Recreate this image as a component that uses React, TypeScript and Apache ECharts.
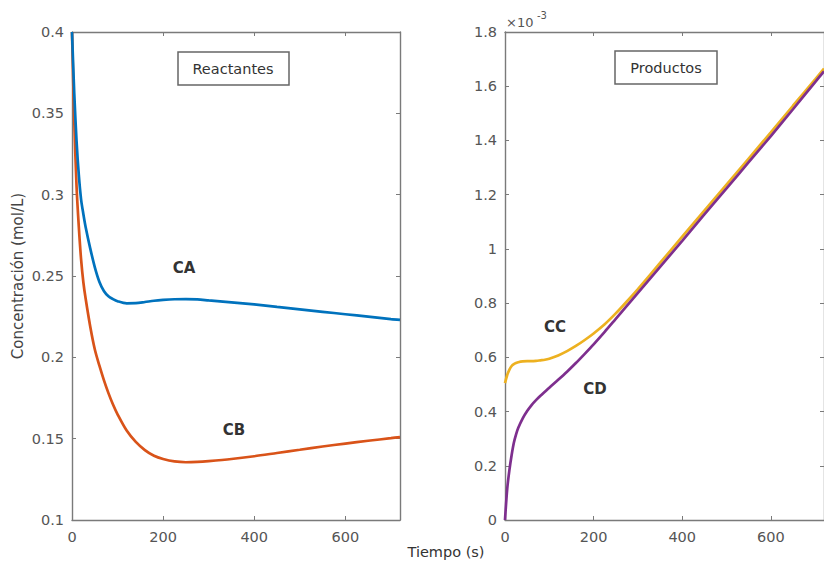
import React, { useEffect, useRef } from "react";
import * as echarts from "echarts";

// time (s)
const TIME = [0, 5, 10, 15, 20, 25, 30, 40, 50, 60, 70, 80, 90, 100, 120, 140, 160, 180, 200, 225, 250, 275, 300, 350, 400, 450, 500, 550, 600, 650, 700, 720];

// Reactantes (mol/L)
const CA = [0.4, 0.362, 0.333, 0.312, 0.297, 0.288, 0.28, 0.267, 0.2555, 0.2465, 0.2408, 0.2375, 0.2358, 0.2345, 0.2332, 0.2333, 0.234, 0.2348, 0.2353, 0.2357, 0.2358, 0.2356, 0.235, 0.2338, 0.2325, 0.231, 0.2295, 0.228, 0.2265, 0.225, 0.2235, 0.223];
const CB = [0.4, 0.345, 0.305, 0.28, 0.26, 0.246, 0.236, 0.219, 0.205, 0.195, 0.186, 0.178, 0.171, 0.165, 0.155, 0.148, 0.143, 0.1395, 0.1375, 0.136, 0.1355, 0.1357, 0.1362, 0.1375, 0.1392, 0.1412, 0.1432, 0.1452, 0.147, 0.1487, 0.1503, 0.151];

// Productos (x 10^-3 mol/L)
const CC = [0.505, 0.535, 0.555, 0.568, 0.575, 0.579, 0.582, 0.585, 0.586, 0.586, 0.587, 0.589, 0.591, 0.595, 0.607, 0.623, 0.642, 0.664, 0.688, 0.722, 0.762, 0.806, 0.852, 0.948, 1.045, 1.141, 1.237, 1.333, 1.43, 1.528, 1.625, 1.665];
const CD = [0, 0.115, 0.185, 0.24, 0.285, 0.316, 0.34, 0.375, 0.402, 0.424, 0.442, 0.458, 0.473, 0.488, 0.517, 0.547, 0.579, 0.613, 0.648, 0.694, 0.742, 0.79, 0.838, 0.934, 1.03, 1.127, 1.223, 1.32, 1.416, 1.515, 1.615, 1.655];

const X_MIN = 0;
const X_MAX = 720;
const X_STEP = 200;
const YL_MIN = 0.1;
const YL_MAX = 0.4;
const YL_STEP = 0.05;
const YR_MIN = 0;
const YR_MAX = 1.8;
const YR_STEP = 0.2;

const FONT = "DejaVu Sans";
const AXIS_COLOR = "#7a7a7a";
const LABEL_COLOR = "#555555";

function pairs(xs: number[], ys: number[]) {
  return xs.map((x, i) => [x, ys[i]]);
}

function xAxisDef(gridIndex: number, position: "top" | "bottom") {
  const main = position === "bottom";
  return {
    type: "value",
    gridIndex,
    position,
    min: X_MIN,
    max: X_MAX,
    interval: X_STEP,
    axisLine: { show: true, onZero: false, lineStyle: { color: AXIS_COLOR, width: 1.4 } },
    axisTick: { show: true, inside: true, length: 4, lineStyle: { color: AXIS_COLOR, width: 1 } },
    axisLabel: {
      show: main,
      showMaxLabel: false,
      margin: 9,
      fontSize: 14.5,
      fontFamily: FONT,
      color: LABEL_COLOR,
    },
    splitLine: { show: false },
  };
}

function yAxisDef(gridIndex: number, position: "left" | "right", min: number, max: number, step: number) {
  const main = position === "left";
  return {
    type: "value",
    gridIndex,
    position,
    min,
    max,
    interval: step,
    axisLine: { show: true, onZero: false, lineStyle: { color: AXIS_COLOR, width: 1.4 } },
    axisTick: { show: true, inside: true, length: 4, lineStyle: { color: AXIS_COLOR, width: 1 } },
    axisLabel: {
      show: main,
      margin: 8,
      fontSize: 14.5,
      fontFamily: FONT,
      color: LABEL_COLOR,
    },
    splitLine: { show: false },
  };
}

function lineSeries(name: string, xi: number, yi: number, ys: number[], color: string) {
  return {
    name,
    type: "line",
    xAxisIndex: xi,
    yAxisIndex: yi,
    data: pairs(TIME, ys),
    showSymbol: false,
    smooth: 0.3,
    lineStyle: { color, width: 2.7 },
    itemStyle: { color },
  };
}

export default function App() {
  const ref = useRef<HTMLDivElement>(null);

  useEffect(() => {
    if (!ref.current) return;
    const chart = echarts.init(ref.current, undefined, { renderer: "svg" });
    const textStyle = (text: string, size: number, color: string, align = "center", weight = "normal") => ({
      text,
      fontSize: size,
      fontFamily: FONT,
      fontWeight: weight,
      fill: color,
      align,
      verticalAlign: "middle",
    });
    chart.setOption({
      animation: false,
      backgroundColor: "#ffffff",
      grid: [
        { left: 72, top: 32, width: 328, height: 488 },
        { left: 505, top: 32, width: 328, height: 488 },
      ],
      xAxis: [xAxisDef(0, "bottom"), xAxisDef(0, "top"), xAxisDef(1, "bottom"), xAxisDef(1, "top")],
      yAxis: [
        yAxisDef(0, "left", YL_MIN, YL_MAX, YL_STEP),
        yAxisDef(0, "right", YL_MIN, YL_MAX, YL_STEP),
        yAxisDef(1, "left", YR_MIN, YR_MAX, YR_STEP),
        yAxisDef(1, "right", YR_MIN, YR_MAX, YR_STEP),
      ],
      series: [
        lineSeries("CB", 0, 0, CB, "#D95319"),
        lineSeries("CA", 0, 0, CA, "#0072BD"),
        lineSeries("CC", 2, 2, CC, "#EDB120"),
        lineSeries("CD", 2, 2, CD, "#7E2F8E"),
      ],
      graphic: [
        {
          type: "rect",
          shape: { x: 178, y: 52, width: 111, height: 33 },
          style: { fill: "#ffffff", stroke: "#666666", lineWidth: 1.5 },
          z: 10,
        },
        { type: "text", x: 233, y: 69, style: textStyle("Reactantes", 14.5, "#333333"), z: 11 },
        {
          type: "rect",
          shape: { x: 615, y: 51, width: 102, height: 33 },
          style: { fill: "#ffffff", stroke: "#666666", lineWidth: 1.5 },
          z: 10,
        },
        { type: "text", x: 666, y: 68, style: textStyle("Productos", 14.5, "#333333"), z: 11 },
        { type: "text", x: 184, y: 268, style: textStyle("CA", 15, "#333333", "center", "bold"), z: 11 },
        { type: "text", x: 234, y: 430, style: textStyle("CB", 15, "#333333", "center", "bold"), z: 11 },
        { type: "text", x: 555, y: 327, style: textStyle("CC", 15, "#333333", "center", "bold"), z: 11 },
        { type: "text", x: 595, y: 389, style: textStyle("CD", 15, "#333333", "center", "bold"), z: 11 },
        { type: "text", x: 506, y: 22, style: textStyle("×10", 13, LABEL_COLOR, "left"), z: 11 },
        { type: "text", x: 537, y: 15, style: textStyle("-3", 10, LABEL_COLOR, "left"), z: 11 },
        {
          type: "text",
          x: 18,
          y: 276,
          rotation: Math.PI / 2,
          style: textStyle("Concentración (mol/L)", 15, "#444444"),
          z: 11,
        },
        { type: "text", x: 446, y: 552, style: textStyle("Tiempo (s)", 14.5, "#333333"), z: 11 },
      ],
    });
    return () => chart.dispose();
  }, []);

  return (
    <div
      ref={ref}
      style={{ position: "absolute", left: 0, top: 0, width: "824px", height: "562px" }}
    />
  );
}
